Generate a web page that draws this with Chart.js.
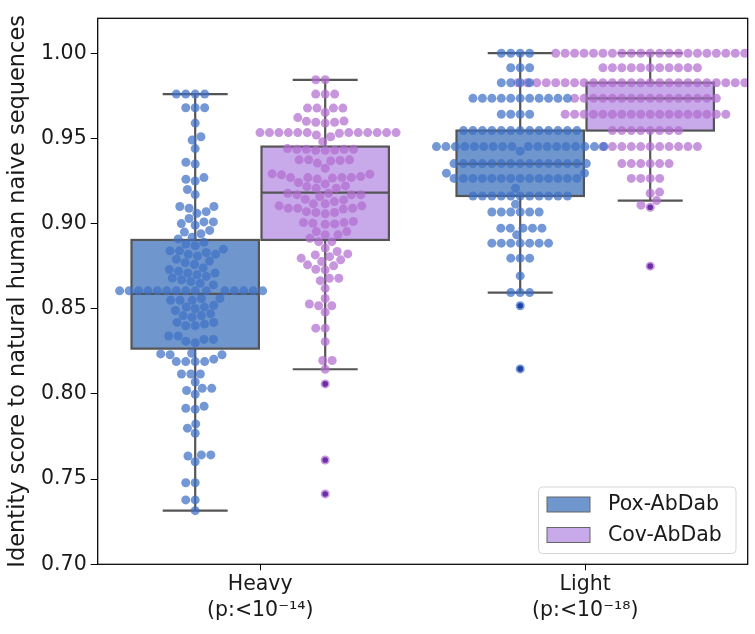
<!DOCTYPE html>
<html><head><meta charset="utf-8">
<script src="https://cdn.jsdelivr.net/npm/chart.js@4/dist/chart.umd.min.js"></script>
<style>html,body{margin:0;padding:0;background:#fff;overflow:hidden}</style>
</head><body>
<canvas id="c" width="755" height="634"></canvas>
<script>
// ---------------- data ----------------
const categories = ['Heavy', 'Light'];
const pLabels = ['(p:<10\u207B\u00B9\u2074)', '(p:<10\u207B\u00B9\u2078)'];
const seriesNames = ['Pox-AbDab', 'Cov-AbDab'];
const yTicks = [0.70, 0.75, 0.80, 0.85, 0.90, 0.95, 1.00];

const heavyPox = [
  0.976,0.976,0.976,0.976, 0.968,0.968,0.968, 0.959, 0.951,0.949, 0.944, 0.936,0.935,
  0.927,0.926,0.925, 0.920,0.917, 0.910,0.909,0.907,0.906,0.910,
  0.903,0.901,0.900,0.899,0.901, 0.896,0.895,0.894, 0.892,0.891,
  0.889,0.888,0.887, 0.885,0.884,0.884,0.883,0.882,0.882,0.881,
  0.879,0.878,0.877,0.876, 0.874,0.873,0.872,0.871,0.871,0.870,0.869,0.868,
  0.867,0.866,0.865,0.864,
  0.8605,0.8605,0.8605,0.8605,0.8605,0.8605,0.8605,0.8605,0.8605,0.8605,0.8605,0.8605,0.8605,0.8605,0.8605,
  0.856,0.856,0.855,0.855,0.855, 0.852,0.851,0.851,0.850,0.849,
  0.847,0.846,0.846,0.845, 0.842,0.842,0.840,0.840,0.841,
  0.834,0.834,0.831,0.830,0.832,0.832,
  0.8235,0.8204,0.819,0.823,0.8239,0.823,0.819,0.819,0.819,
  0.8117,0.8117,0.8117, 0.807, 0.802,0.7998,0.8033,0.8033,
  0.7916,0.791,0.7928, 0.7824,0.7799,0.7769,
  0.7636,0.7642,0.7642,0.7602, 0.7479,0.7479, 0.7378,0.7378, 0.7315
];
const heavyCov = [
  0.9844,0.9844, 0.976,0.976,0.976, 0.9678,0.9678,0.9678,0.9678,0.9652,
  0.9602,0.9595,0.9590,0.9600,0.9595,0.9622,
  0.9534,0.9534,0.9534,0.9534,0.9534,0.9534,0.9534,0.9534,0.9534,0.9534,0.9534,0.9534,0.951,0.953,0.952,
  0.9481,
  0.944,0.9436,0.9436,0.943,0.943,0.9436,0.9432,0.9436,
  0.9374,0.9374,0.9355,0.9368,0.937,0.9374,0.9325,
  0.929,0.9276,0.9270,0.9270,0.9270,0.9292,0.9261,0.9267,0.9270,0.9286,
  0.9221,0.9241,0.9217,0.9233,0.9208,0.9208,
  0.9169,0.9178,0.9159,0.9178,0.9169,0.9169,
  0.9143,0.9104,0.909,0.9085,0.9116,0.9116,0.9129,0.909,0.909,0.9104,0.9139,
  0.9065,0.9057,0.9065,0.907,
  0.9006,0.8996,0.9006,0.9002,0.8998,0.9012,
  0.8934,0.8953,0.8953,0.8914,0.8934,
  0.8894,0.8894, 0.8856,0.8836,0.8822,0.8806,0.8816,
  0.8787,0.8797,0.8758,0.8752,0.8777,
  0.8728,0.8732,0.8679,0.8665,0.8679,
  0.862, 0.856, 0.8528,0.8518,0.8518,0.848,
  0.8386,0.8386, 0.8307, 0.8196,0.8196, 0.8145,
  0.8059, 0.7612, 0.7413
];
const lightPox = [
  1.0,1.0,1.0,1.0,
  0.9915,0.9915,0.9915,
  0.9827,0.9827,0.9827,0.9827,
  0.9735,0.9735,0.9735,0.9735,0.9735,0.9735,0.9735,0.9735,0.9735,0.9735,0.9735,
  0.9642,0.9642,0.9642,0.9642,
  0.9546,0.9546,0.9546,0.9546,0.9546,0.9546,0.9546,0.9546,0.9546,0.9546,0.9546,0.9546,0.9546,
  0.9452,0.9452,0.9452,0.9452,0.9452,0.9452,0.9452,0.9452,0.9452,0.9452,0.9452,0.9452,0.9452,0.9452,0.9452,0.9452,0.9452,0.9452,
  0.9425,
  0.9352,0.9352,0.9352,0.9352,0.9352,0.9352,0.9352,0.9352,0.9352,0.9352,0.9352,0.9352,0.9352,0.9352,0.9352,
  0.9296,0.9296,
  0.9265,0.9265,0.9265,0.9265,0.9265,0.9265,0.9265,0.9265,0.9265,0.9265,0.9265,0.9265,0.9265,0.9265,
  0.9208,
  0.9162,0.9162,0.9162,0.9162,0.9162,0.9162,0.9162,0.9162,0.9162,0.9162,0.9162,
  0.9114,
  0.9068,0.9068,0.9068,0.9068,0.9068,0.9068,
  0.8973,0.8973,0.8973,0.8973,0.8973,
  0.8934,
  0.8885,0.8885,0.8885,0.8885,0.8885,0.8885,0.8885,
  0.8797,0.8797,0.8797,
  0.8693,
  0.8595,0.8595,0.8595,
  0.8518, 0.8147
];
const lightCov = [
  1.0,1.0,1.0,1.0,1.0,1.0,1.0,1.0,1.0,1.0,1.0,1.0,1.0,1.0,1.0,1.0,1.0,1.0,1.0,1.0,1.0,
  0.9915,0.9915,0.9915,0.9915,0.9915,0.9915,0.9915,0.9915,0.9915,0.9915,0.9915,
  0.9827,0.9827,0.9827,0.9827,0.9827,0.9827,0.9827,0.9827,0.9827,0.9827,0.9827,0.9827,0.9827,0.9827,0.9827,
  0.9827,0.9827,0.9827,0.9827,0.9827,0.9827,0.9827,0.9827,0.9827,0.9827,0.9827,0.9827,0.9827,0.9827,
  0.9735,0.9735,0.9735,0.9735,0.9735,0.9735,0.9735,0.9735,0.9735,0.9735,0.9735,0.9735,0.9735,0.9735,0.9735,0.9735,
  0.9642,0.9642,0.9642,0.9642,0.9642,0.9642,0.9642,0.9642,0.9642,0.9642,0.9642,0.9642,0.9642,0.9642,0.9642,0.9642,0.9642,0.9642,
  0.9546,0.9546,0.9546,0.9546,0.9546,0.9546,0.9546,0.9546,
  0.9452,0.9452,0.9452,0.9452,0.9452,0.9452,0.9452,0.9452,0.9452,0.9452,0.9452,
  0.9352,0.9352,0.9352,0.9352,0.9352,0.9352,
  0.9265,0.9265,0.9265,0.9265,
  0.9185,0.9178,
  0.9135,0.9108,
  0.9096, 0.875
];
// box statistics [lower whisker, Q1, median, Q3, upper whisker]
const statsHeavyPox = [0.7315, 0.8266, 0.8587, 0.8904, 0.976];
const statsHeavyCov = [0.8145, 0.8904, 0.9182, 0.9452, 0.9844];
const statsLightPox = [0.8595, 0.9162, 0.9350, 0.9546, 1.0];
const statsLightCov = [0.9135, 0.9546, 0.9735, 0.9827, 1.0];
// fliers
const outHeavyPox = [];
const outHeavyCov = [0.8059, 0.7612, 0.7413];
const outLightPox = [0.8518, 0.8147];
const outLightCov = [0.9096, 0.875];

// ---------------- styling ----------------
const FONT = "'DejaVu Sans', sans-serif";
const FS = 20.5;      // tick labels
const FS_TITLE = 22.5; // axis title
const FS_LEG = 20.5;
const boxFill = ['#7097cd', '#c8a9ea'];
const pointColor = ['rgba(62,112,198,0.72)', 'rgba(178,110,208,0.72)'];
const flierColor = ['rgba(25,55,160,0.9)', 'rgba(95,35,160,0.9)'];
const lineColor = '#555555';
const R = 4.5;
const DODGE = 0.2, HALFBOX = 0.196, HALFCAP = 0.1;

const groups = [
  {g:0, s:0, values: heavyPox, stats: statsHeavyPox, out: outHeavyPox},
  {g:0, s:1, values: heavyCov, stats: statsHeavyCov, out: outHeavyCov},
  {g:1, s:0, values: lightPox, stats: statsLightPox, out: outLightPox},
  {g:1, s:1, values: lightCov, stats: statsLightCov, out: outLightCov}
];
groups.forEach(o => o.center = o.g + (o.s === 0 ? -DODGE : DODGE));

const datasets = [];
groups.forEach(o => {
  datasets.push({
    label: seriesNames[o.s], data: o.values.map(v => ({x: o.center, y: v})),
    backgroundColor: pointColor[o.s], borderWidth: 0, pointRadius: R, pointHoverRadius: R,
    clip: 0, order: 1
  });
});
groups.forEach(o => {
  datasets.push({
    label: seriesNames[o.s] + ' outliers', data: o.out.map(v => ({x: o.center, y: v})),
    backgroundColor: flierColor[o.s], borderWidth: 0, pointRadius: 2.8, pointHoverRadius: 2.8,
    clip: 0, order: 0
  });
});

// box drawing through the scales
const boxPlugin = {
  id: 'boxes',
  beforeDatasetsDraw(chart) {
    const {ctx, scales: {x, y}} = chart;
    ctx.save();
    groups.forEach(o => {
      const [lo, q1, med, q3, hi] = o.stats;
      const xl = x.getPixelForValue(o.center - HALFBOX), xr = x.getPixelForValue(o.center + HALFBOX);
      const xc = x.getPixelForValue(o.center);
      const cl = x.getPixelForValue(o.center - HALFCAP), cr = x.getPixelForValue(o.center + HALFCAP);
      const y1 = y.getPixelForValue(q1), y3 = y.getPixelForValue(q3), ym = y.getPixelForValue(med);
      const ylo = y.getPixelForValue(lo), yhi = y.getPixelForValue(hi);
      ctx.lineWidth = 2.2; ctx.strokeStyle = lineColor; ctx.lineCap = 'butt';
      ctx.beginPath();
      ctx.moveTo(xc, y1); ctx.lineTo(xc, ylo);
      ctx.moveTo(xc, y3); ctx.lineTo(xc, yhi);
      ctx.moveTo(cl, ylo); ctx.lineTo(cr, ylo);
      ctx.moveTo(cl, yhi); ctx.lineTo(cr, yhi);
      ctx.stroke();
      ctx.fillStyle = boxFill[o.s];
      ctx.fillRect(xl, y3, xr - xl, y1 - y3);
      ctx.strokeRect(xl, y3, xr - xl, y1 - y3);
      ctx.beginPath(); ctx.moveTo(xl, ym); ctx.lineTo(xr, ym); ctx.stroke();
    });
    ctx.restore();
  },
  afterDraw(chart) {
    const {ctx, chartArea: a} = chart;
    ctx.save();
    ctx.strokeStyle = '#000'; ctx.lineWidth = 1.25;
    ctx.strokeRect(a.left, a.top, a.right - a.left, a.bottom - a.top);
    // legend
    const lx = 538.5, ly = 487, lw = 197.5, lh = 66.5, rr = 4;
    ctx.beginPath();
    ctx.moveTo(lx + rr, ly); ctx.lineTo(lx + lw - rr, ly); ctx.quadraticCurveTo(lx + lw, ly, lx + lw, ly + rr);
    ctx.lineTo(lx + lw, ly + lh - rr); ctx.quadraticCurveTo(lx + lw, ly + lh, lx + lw - rr, ly + lh);
    ctx.lineTo(lx + rr, ly + lh); ctx.quadraticCurveTo(lx, ly + lh, lx, ly + lh - rr);
    ctx.lineTo(lx, ly + rr); ctx.quadraticCurveTo(lx, ly, lx + rr, ly); ctx.closePath();
    ctx.fillStyle = 'rgba(255,255,255,0.85)'; ctx.fill();
    ctx.strokeStyle = '#d6d6d6'; ctx.lineWidth = 1; ctx.stroke();
    seriesNames.forEach((name, i) => {
      const py = 497 + i * 30.5;
      ctx.fillStyle = boxFill[i];
      ctx.fillRect(547, py, 43, 15);
      ctx.strokeStyle = '#666'; ctx.lineWidth = 1;
      ctx.strokeRect(547, py, 43, 15);
      ctx.fillStyle = '#1a1a1a';
      ctx.font = FS_LEG + 'px ' + FONT;
      ctx.textBaseline = 'middle'; ctx.textAlign = 'left';
      ctx.fillText(name, 608, py + 8);
    });
    ctx.restore();
  }
};

Chart.defaults.font.family = FONT;
Chart.defaults.color = '#1a1a1a';

const chart = new Chart(document.getElementById('c'), {
  type: 'scatter',
  data: {datasets},
  options: {
    responsive: false, animation: false, devicePixelRatio: 1, events: [],
    layout: {padding: {left: 0, right: 7.3, top: 18.3, bottom: 0}},
    plugins: {legend: {display: false}, tooltip: {enabled: false}},
    scales: {
      x: {
        type: 'linear', min: -0.5, max: 1.5,
        afterFit(s) { s.height = 69.7; },
        afterBuildTicks(s) { s.ticks = categories.map((c, i) => ({value: i})); },
        grid: {display: true, drawOnChartArea: false, drawTicks: true, tickLength: 6, tickColor: '#000', tickWidth: 1},
        border: {display: false},
        ticks: {autoSkip: false, maxRotation: 0, minRotation: 0, padding: 2,
          font: {size: FS, lineHeight: 1.25, family: FONT}, color: '#1a1a1a',
          callback: v => [categories[v], pLabels[v]]}
      },
      y: {
        type: 'linear', min: 0.70, max: 1.0205,
        afterFit(s) { s.width = 97.7; },
        afterBuildTicks(s) { s.ticks = yTicks.map(v => ({value: v})); },
        grid: {display: true, drawOnChartArea: false, drawTicks: true, tickLength: 7, tickColor: '#000', tickWidth: 1},
        border: {display: false},
        ticks: {padding: 4, font: {size: FS, family: FONT}, color: '#1a1a1a', callback: v => v.toFixed(2)},
        title: {display: true, text: 'Identity score to natural human naive sequences', align: 'center',
          font: {size: FS_TITLE, family: FONT, lineHeight: 1.2}, color: '#1a1a1a', padding: {top: 5, bottom: 0}}
      }
    }
  },
  plugins: [boxPlugin]
});

// beeswarm placement (seaborn-like), computed in pixel space through the chart's scales
function beeswarm(values, cx, yScale, r) {
  const pts = values.map(v => ({v, y: yScale.getPixelForValue(v), x: cx}));
  pts.sort((a, b) => a.v - b.v);
  const placed = [];
  const d = 2 * r;
  for (const p of pts) {
    if (!placed.length) { placed.push(p); continue; }
    const nb = placed.filter(q => Math.abs(p.y - q.y) < d);
    const cands = [cx];
    let leftFirst = true;
    for (const q of nb) {
      const dy = p.y - q.y;
      const dx = Math.sqrt(Math.max(d * d - dy * dy, 0)) * 1.05;
      if (leftFirst) cands.push(q.x - dx, q.x + dx); else cands.push(q.x + dx, q.x - dx);
      leftFirst = !leftFirst;
    }
    const order = cands.map((x, k) => ({x, k})).sort((a, b) => {
      const da = Math.abs(a.x - cx), db = Math.abs(b.x - cx);
      return (Math.abs(da - db) < 1e-9) ? a.k - b.k : da - db;
    });
    for (const c of order) {
      if (nb.every(q => (q.x - c.x) ** 2 + (q.y - p.y) ** 2 >= d * d - 1e-6)) { p.x = c.x; break; }
    }
    placed.push(p);
  }
  return placed;
}
(function place() {
  const xs = chart.scales.x, ys = chart.scales.y;
  groups.forEach((o, i) => {
    const cx = xs.getPixelForValue(o.center);
    const pts = beeswarm(o.values, cx, ys, R);
    chart.data.datasets[i].data = pts.map(p => ({x: xs.getValueForPixel(p.x), y: p.v}));
  });
  chart.update('none');
})();
</script>
</body></html>
